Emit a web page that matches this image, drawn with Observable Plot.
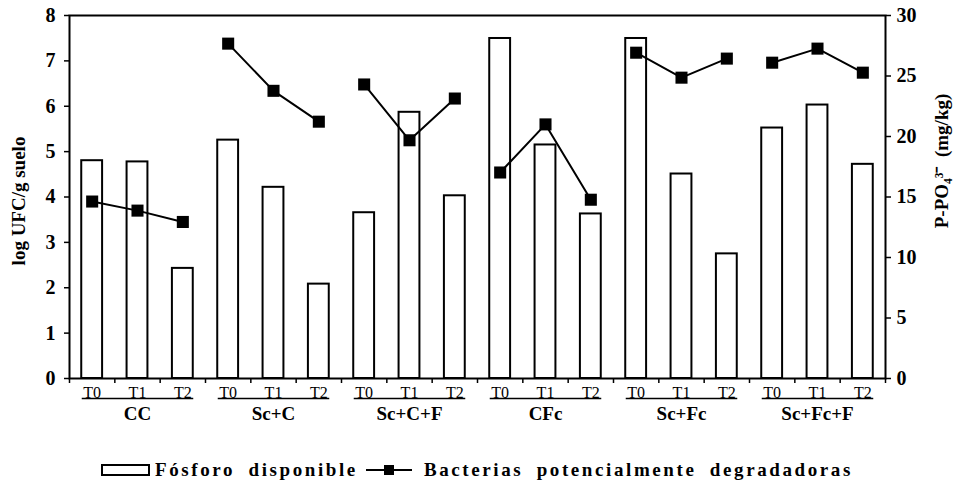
<!DOCTYPE html>
<html>
<head>
<meta charset="utf-8">
<script src="https://cdn.jsdelivr.net/npm/d3@7"></script>
<script src="https://cdn.jsdelivr.net/npm/@observablehq/plot@0.6"></script>
<style>
  html, body { margin: 0; padding: 0; background: #fff; }
  #chart { width: 959px; }
  .legend { display: flex; align-items: center; margin-left: 101px; margin-top: 19px; height: 22px;
    font-family: "Liberation Serif", serif; font-weight: bold; font-size: 19px; letter-spacing: 2.6px; word-spacing: 6px; color: #000; white-space: nowrap; }
  .sw-bar { width: 45px; height: 8px; border: 2px solid #000; background: #fff; margin-right: 5px; }
  .sw-line { position: relative; width: 46px; height: 14px; margin: 0 12px 0 8px; }
  .sw-line::before { content: ""; position: absolute; left: 0; right: 0; top: 6px; border-top: 2px solid #000; }
  .sw-line::after { content: ""; position: absolute; left: 18px; top: 2px; width: 10px; height: 10px; background: #000; }
</style>
</head>
<body>
<div id="chart"></div>
<script>
const groups = ["CC", "Sc+C", "Sc+C+F", "CFc", "Sc+Fc", "Sc+Fc+F"];
const times = ["T0", "T1", "T2"];
// Fósforo disponible, P-PO4 (mg/kg), right axis
const fosforo = [18.0, 17.9, 9.1, 19.7, 15.8, 7.8, 13.7, 22.0, 15.1, 28.1, 19.3, 13.6, 28.1, 16.9, 10.3, 20.7, 22.6, 17.7];
// Bacterias potencialmente degradadoras, log UFC/g suelo, left axis
const bacterias = [3.9, 3.7, 3.45, 7.38, 6.34, 5.66, 6.48, 5.25, 6.17, 4.54, 5.6, 3.94, 7.18, 6.63, 7.05, 6.96, 7.27, 6.74];
const leftTicks = [0, 1, 2, 3, 4, 5, 6, 7, 8];
const rightTicks = [0, 5, 10, 15, 20, 25, 30];
const leftMax = 8, rightMax = 30;

const rows = fosforo.map((f, i) => ({
  i, group: groups[Math.floor(i / 3)], time: times[i % 3], fosforo: f, bact: bacterias[i]
}));
const toLeft = v => v * leftMax / rightMax;
const boundaries = d3.range(0, rows.length + 1).map(k => k - 0.5);
const serif = "Liberation Serif, Times New Roman, serif";

const plot = Plot.plot({
  width: 959,
  height: 440,
  marginLeft: 69,
  marginRight: 74,
  marginTop: 15,
  marginBottom: 62,
  style: { fontFamily: serif, color: "#000", background: "#fff" },
  x: { type: "linear", domain: [-0.5, rows.length - 0.5] },
  y: { domain: [0, leftMax] },
  marks: [
    Plot.rectY(rows, { x1: d => d.i - 0.23, x2: d => d.i + 0.23, y1: 0, y2: d => toLeft(d.fosforo),
      fill: "white", stroke: "black", strokeWidth: 2 }),
    Plot.line(rows, { x: "i", y: "bact", z: "group", stroke: "black", strokeWidth: 2 }),
    Plot.dot(rows, { x: "i", y: "bact", symbol: "square", fill: "black", r: 6.8 }),
    Plot.frame({ stroke: "black", strokeWidth: 2 }),
    Plot.axisY(leftTicks, { anchor: "left", tickSize: 5, tickPadding: 9, fontSize: 20, fontWeight: "bold", label: null, strokeWidth: 1.5 }),
    Plot.axisY(rightTicks.map(toLeft), { anchor: "right", tickSize: 5, tickPadding: 6, fontSize: 20, fontWeight: "bold", letterSpacing: 1,
      tickFormat: d => Math.round(d * rightMax / leftMax), label: null, strokeWidth: 1.5 }),
    Plot.axisX(boundaries, { tickSize: 5, tickFormat: () => "", label: null, strokeWidth: 1.5 }),
    Plot.axisX(rows.map(d => d.i), { tickSize: 0, tickPadding: 8, fontSize: 16, tickFormat: i => times[i % 3], label: null }),
    Plot.link(groups, { x1: (g, j) => j * 3 - 0.23, x2: (g, j) => j * 3 + 2.23, y1: -0.44, y2: -0.44, stroke: "black", strokeWidth: 1.5 }),
    Plot.text(groups, { x: (g, j) => j * 3 + 1, y: 0, dy: 35, text: d => d, fontSize: 19, fontWeight: "bold", letterSpacing: 1.5 }),
    Plot.text(["log UFC/g suelo"], { frameAnchor: "left", textAnchor: "middle", dx: -51, dy: 4, rotate: -90, text: d => d, fontSize: 19, fontWeight: "bold" }),
    Plot.text(["P-PO\u2084\u00B3\u207B  (mg/kg)"], { frameAnchor: "right", textAnchor: "middle", dx: 56, dy: -36, rotate: -90, text: d => d, fontSize: 19, fontWeight: "bold" })
  ]
});
document.getElementById("chart").appendChild(plot);

const legend = document.createElement("div");
legend.className = "legend";
legend.innerHTML = '<span class="sw-bar"></span><span>Fósforo disponible</span><span class="sw-line"></span><span>Bacterias potencialmente degradadoras</span>';
document.getElementById("chart").appendChild(legend);
</script>
</body>
</html>
